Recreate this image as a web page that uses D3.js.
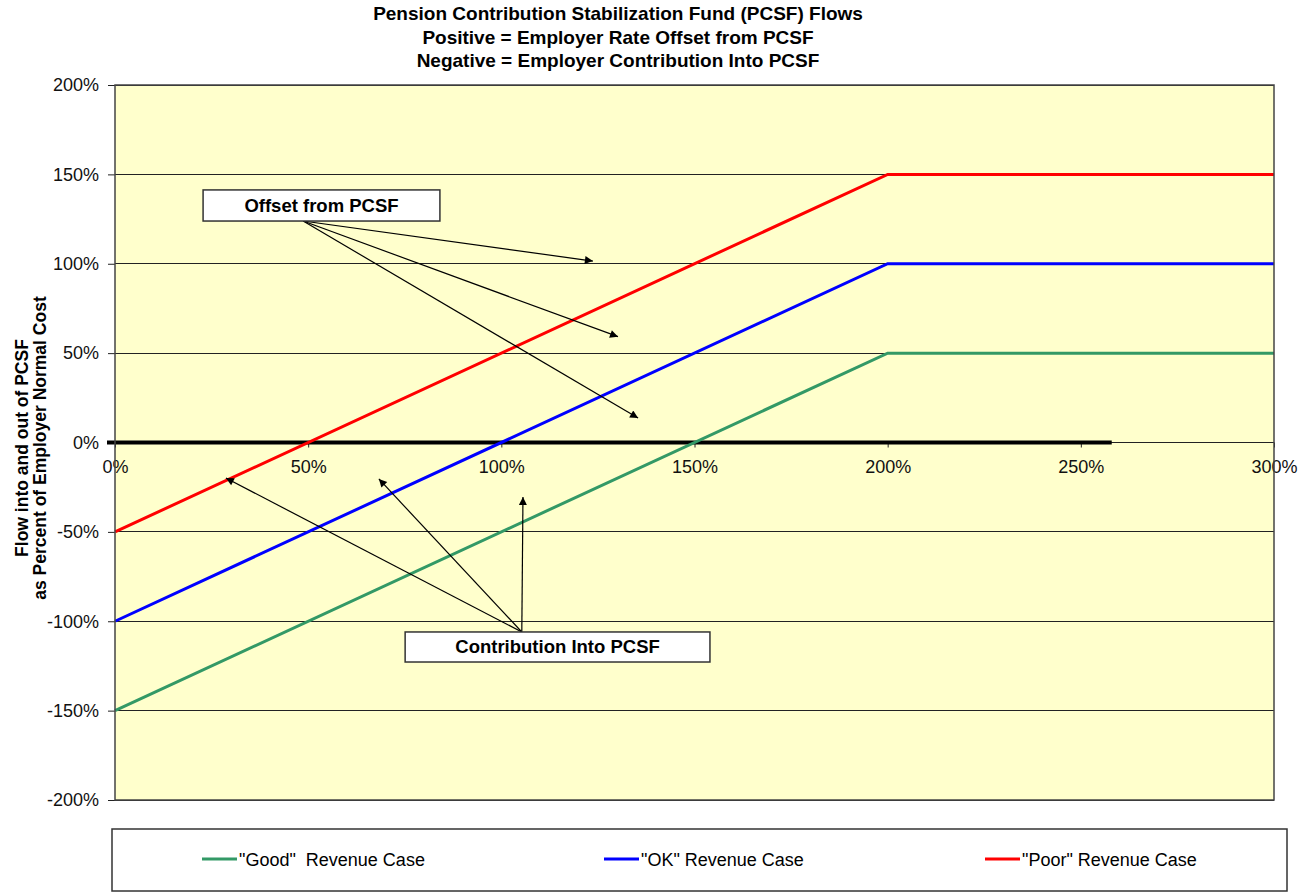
<!DOCTYPE html>
<html><head><meta charset="utf-8">
<script src="https://cdn.jsdelivr.net/npm/d3@7"></script>
<style>body{margin:0;background:#fff}svg{display:block}text{white-space:pre}</style>
</head><body>
<script>
const xValues = [0, 200, 300];
const goodCase = [-150, 50, 50];
const okCase = [-100, 100, 100];
const poorCase = [-50, 150, 150];
const seriesNames = ['"Good"  Revenue Case', '"OK" Revenue Case', '"Poor" Revenue Case'];
const seriesColors = ["#339966", "#0000ff", "#ff0000"];
const xTicks = [0, 50, 100, 150, 200, 250, 300];
const yTicks = [-200, -150, -100, -50, 0, 50, 100, 150, 200];
const titleLines = ["Pension Contribution Stabilization Fund (PCSF) Flows", "Positive = Employer Rate Offset from PCSF", "Negative = Employer Contribution Into PCSF"];
const yLabelLines = ["Flow into and out of PCSF", "as Percent of Employer Normal Cost"];
const zeroLineEnd = 258;
// annotations in data units
const offsetBox = {x0: 22.8, x1: 84.1, y0: 141.3, y1: 123.9, label: "Offset from PCSF"};
const offsetFrom = [48.7, 123.9];
const offsetTips = [[123.7, 101.5], [130.2, 59.2], [135.4, 13.7]];
const contribBox = {x0: 75.1, x1: 154, y0: -106, y1: -122.8, label: "Contribution Into PCSF"};
const contribFrom = [105.3, -106];
const contribTips = [[28.7, -19.9], [68.3, -20.4], [105.6, -30.5]];

const W = 1301, H = 894;
const L = 115, R = 1274, T = 85, B = 800;
const svg = d3.select("body").append("svg").attr("width", W).attr("height", H);
const x = d3.scaleLinear().domain([0, 300]).range([L, R]);
const y = d3.scaleLinear().domain([-200, 200]).range([B, T]);

const sans = "'Liberation Sans',Arial,sans-serif";

svg.append("defs").append("marker").attr("id", "arr")
  .attr("viewBox", "0 0 10 10").attr("refX", 10).attr("refY", 5)
  .attr("markerWidth", 10).attr("markerHeight", 8).attr("markerUnits", "userSpaceOnUse")
  .attr("orient", "auto")
  .append("path").attr("d", "M0,0 L10,5 L0,10 Z").attr("fill", "#000");

// plot background
svg.append("rect").attr("x", L).attr("y", T).attr("width", R - L).attr("height", B - T).attr("fill", "#ffffcc");

// gridlines
svg.append("g").selectAll("line").data(yTicks).join("line")
  .attr("x1", L).attr("x2", R).attr("y1", d => y(d)).attr("y2", d => y(d))
  .attr("stroke", "#222").attr("stroke-width", 1).attr("shape-rendering", "crispEdges");

// y axis
const yAxis = d3.axisLeft(y).tickValues(yTicks).tickFormat(d => d + "%").tickSize(7).tickPadding(9);
const gy = svg.append("g").attr("transform", `translate(${L},0)`).call(yAxis);
gy.select(".domain").remove();
gy.selectAll("line").attr("stroke", "#222");
gy.selectAll("text").attr("font-family", sans).attr("font-size", 18).attr("fill", "#111");

// x axis along zero
const xAxis = d3.axisBottom(x).tickValues(xTicks).tickFormat(d => d + "%").tickSize(5).tickPadding(13);
const gx = svg.append("g").attr("transform", `translate(0,${y(0)})`).call(xAxis);
gx.select(".domain").remove();
gx.selectAll("line").attr("stroke", "#222");
gx.selectAll("text").attr("font-family", sans).attr("font-size", 18).attr("fill", "#111");

// thick zero line
svg.append("line").attr("x1", L - 8).attr("x2", x(zeroLineEnd)).attr("y1", y(0)).attr("y2", y(0))
  .attr("stroke", "#000").attr("stroke-width", 4);

// series
const line = d3.line().x(d => x(d[0])).y(d => y(d[1]));
[goodCase, okCase, poorCase].forEach((vals, i) => {
  svg.append("path").datum(xValues.map((xv, j) => [xv, vals[j]]))
    .attr("d", line).attr("fill", "none").attr("stroke", seriesColors[i]).attr("stroke-width", 3);
});

// plot border
svg.append("rect").attr("x", L).attr("y", T).attr("width", R - L).attr("height", B - T)
  .attr("fill", "none").attr("stroke", "#444").attr("stroke-width", 1.5);

// annotations
function annot(box, from, tips) {
  const g = svg.append("g");
  tips.forEach(t => {
    g.append("line").attr("x1", x(from[0])).attr("y1", y(from[1])).attr("x2", x(t[0])).attr("y2", y(t[1]))
      .attr("stroke", "#000").attr("stroke-width", 1.2).attr("marker-end", "url(#arr)");
  });
  g.append("rect").attr("x", x(box.x0)).attr("y", y(box.y0)).attr("width", x(box.x1) - x(box.x0))
    .attr("height", y(box.y1) - y(box.y0)).attr("fill", "#fff").attr("stroke", "#333").attr("stroke-width", 1.5);
  g.append("text").attr("x", (x(box.x0) + x(box.x1)) / 2).attr("y", (y(box.y0) + y(box.y1)) / 2 + 6.5)
    .attr("text-anchor", "middle").attr("font-family", sans).attr("font-weight", "bold").attr("font-size", 18.5)
    .attr("fill", "#000").text(box.label);
}
annot(offsetBox, offsetFrom, offsetTips);
annot(contribBox, contribFrom, contribTips);

// title
svg.append("g").selectAll("text").data(titleLines).join("text")
  .attr("x", 618).attr("y", (d, i) => 20 + i * 23.5).attr("text-anchor", "middle")
  .attr("font-family", sans).attr("font-weight", "bold").attr("font-size", 19).attr("fill", "#000")
  .text(d => d);

// y label
svg.append("g").selectAll("text").data(yLabelLines).join("text")
  .attr("transform", (d, i) => `translate(${28 + i * 18},448) rotate(-90)`).attr("text-anchor", "middle")
  .attr("font-family", sans).attr("font-weight", "bold").attr("font-size", 17.5).attr("fill", "#000")
  .text(d => d);

// legend
svg.append("rect").attr("x", 112).attr("y", 829).attr("width", 1175).attr("height", 62)
  .attr("fill", "#fff").attr("stroke", "#333").attr("stroke-width", 1.5);
const legX = [202, 604, 985];
const lg = svg.append("g").selectAll("g").data(seriesNames).join("g")
  .attr("transform", (d, i) => `translate(${legX[i]},859)`);
lg.append("line").attr("x1", 0).attr("x2", 35).attr("stroke", (d, i) => seriesColors[i]).attr("stroke-width", 3);
lg.append("text").attr("x", 37).attr("y", 6.5).attr("font-family", sans).attr("font-size", 18)
  .attr("fill", "#000").text(d => d);
</script>
</body></html>
